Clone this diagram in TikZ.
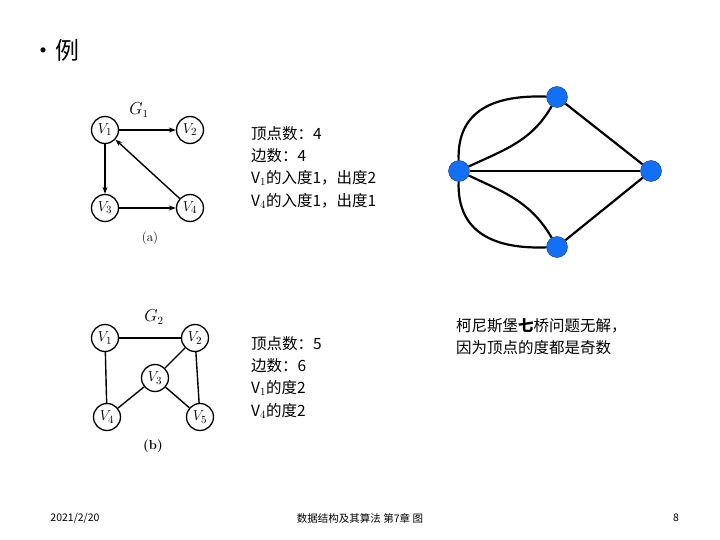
\documentclass[tikz,border=0pt]{standalone}
\usepackage{fontspec}
\usepackage{xcolor}
\newfontfamily\cjk{Noto Sans CJK SC}
\usetikzlibrary{positioning, arrows.meta}

\definecolor{landblue}{RGB}{18,112,245}
\definecolor{landrim}{RGB}{20,45,150}

\begin{document}
\begin{tikzpicture}[x=1pt, y=-1pt, on grid, auto,
        vtx/.style={circle, draw, line width=1.3pt, minimum size=27pt, inner sep=0pt, font=\fontsize{15}{18}\selectfont},
        land/.style={circle, draw=landrim, fill=landblue, minimum size=21pt, inner sep=0pt},
        info/.style={anchor=north west, align=left, inner sep=0pt, font=\cjk\fontsize{15.5}{22.3}\selectfont},
        foot/.style={font=\cjk\fontsize{10.5}{12}\selectfont}]
        \useasboundingbox (0,0) rectangle (720,540);

        \node[font=\cjk\fontsize{24}{28}\selectfont] (title) at (55,50) {•例};

        % G1
        \node[vtx] (a1) at (105,130) {$V_1$};
        \node[vtx] (a2) [right=85pt of a1] {$V_2$};
        \node[vtx] (a3) [below=78pt of a1] {$V_3$};
        \node[vtx] (a4) [right=85pt of a3] {$V_4$};
        \node[font=\fontsize{16}{18}\selectfont] (g1) at (139,110) {$G_1$};
        \node[font=\fontsize{13}{15}\selectfont] (capa) at (150,238) {(a)};

        \path[-{Stealth[length=7pt, width=5pt]}, line width=1.4pt]
        (a1) edge (a2)
        (a1) edge (a3)
        (a3) edge (a4)
        (a4) edge (a1);

        % G2
        \node[vtx] (b1) at (105,338) {$V_1$};
        \node[vtx] (b2) [right=90pt of b1] {$V_2$};
        \node[vtx] (b3) at (155,378) {$V_3$};
        \node[vtx] (b4) at (107,417) {$V_4$};
        \node[vtx] (b5) at (200,417) {$V_5$};
        \node[font=\fontsize{16}{18}\selectfont] (g2) at (154,317) {$G_2$};
        \node[font=\fontsize{13}{15}\selectfont] (capb) at (153,446) {\textbf{(b)}};

        \path[line width=1.4pt]
        (b1) edge (b2)
        (b1) edge (b4)
        (b2) edge (b3)
        (b2) edge (b5)
        (b3) edge (b4)
        (b3) edge (b5);

        \node[info] (deg1) at (251,126) {顶点数：4\\边数：4\\V$_1$的入度1，出度2\\V$_4$的入度1，出度1};
        \node[info] (deg2) at (251,336) {顶点数：5\\边数：6\\V$_1$的度2\\V$_4$的度2};

        % Koenigsberg
        \node[land] (west) at (459,171) {};
        \node[land] (north) at (557,97) {};
        \node[land] (east) at (651,171) {};
        \node[land] (south) at (557,247) {};

        \path[line width=2.2pt]
        (west) edge (east)
        (north) edge (east)
        (south) edge (east)
        (west) edge[out=92, in=178, looseness=1.2] (north)
        (west) edge[out=25, in=240] (north)
        (west) edge[out=-92, in=182, looseness=1.2] (south)
        (west) edge[out=-25, in=120] (south);

        \node[info] (note) at (456,318) {柯尼斯堡\textbf{七}桥问题无解，\\因为顶点的度都是奇数};

        \node[foot] (date) at (75,518) {2021/2/20};
        \node[foot] (course) at (360,518) {数据结构及其算法 第7章 图};
        \node[foot] (page) at (676,518) {8};
\end{tikzpicture}
\end{document}
